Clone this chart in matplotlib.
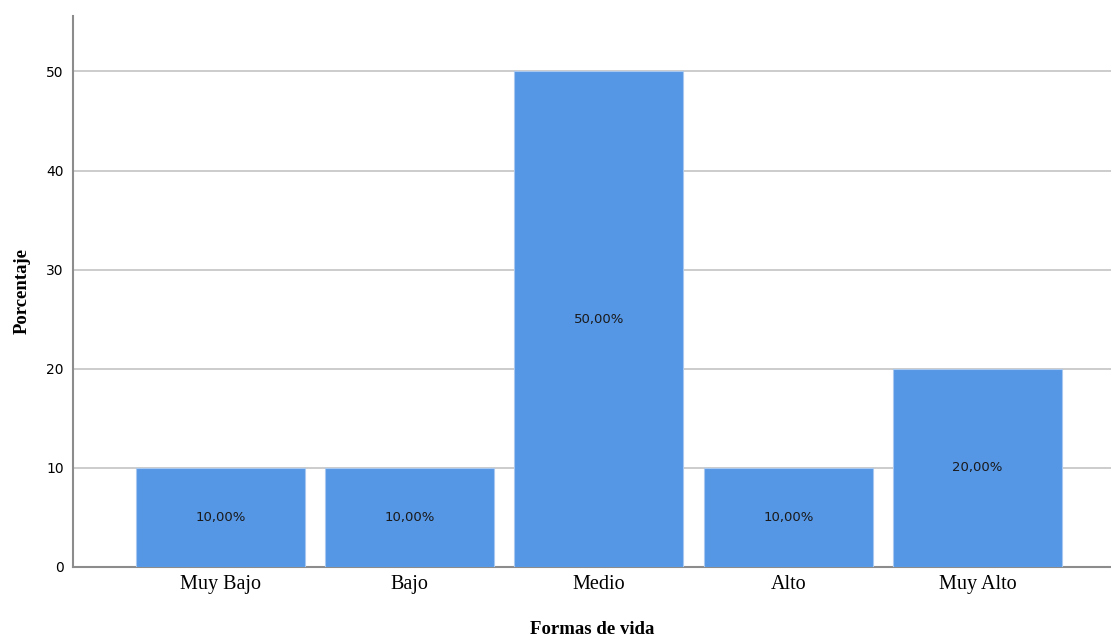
import numpy as np
import matplotlib.pyplot as plt

categories = ["Muy Bajo", "Bajo", "Medio", "Alto", "Muy Alto"]
percentages = [10.0, 10.0, 50.0, 10.0, 20.0]
bar_labels = ["10,00%", "10,00%", "50,00%", "10,00%", "20,00%"]

fig = plt.figure(figsize=(11.11, 6.37), dpi=100)
ax = fig.add_axes([0.066, 0.110, 0.934, 0.865])

x = np.arange(len(categories))
bars = ax.bar(x, percentages, width=0.893, color="#5596e5", edgecolor="#a9c8f0",
              linewidth=0.8, zorder=3)

# labels in the middle of each bar
for rect, lab in zip(bars, bar_labels):
    ax.text(rect.get_x() + rect.get_width() / 2, rect.get_height() / 2, lab,
            ha="center", va="center", fontsize=9.5, family="DejaVu Sans",
            color="#1a1a1a", zorder=4)

ax.set_xlim(-0.777, 4.705)
ax.set_ylim(0, 55.6)
ax.set_yticks([0, 10, 20, 30, 40, 50])
ax.set_xticks(x)
ax.set_xticklabels(categories, family="Liberation Serif", fontsize=14.5)
ax.tick_params(axis="y", labelsize=10, length=0, pad=7)
ax.tick_params(axis="x", length=0, pad=6)
ax.yaxis.grid(True, color="#c4c4c4", linewidth=1.2, zorder=0)
ax.set_axisbelow(True)

for s in ["top", "right"]:
    ax.spines[s].set_visible(False)
for s in ["left", "bottom"]:
    ax.spines[s].set_color("#8c8c8c")
    ax.spines[s].set_linewidth(1.5)

ax.set_xlabel("Formas de vida", family="Liberation Serif", fontsize=13.5,
              fontweight="bold", labelpad=19)
ax.set_ylabel("Porcentaje", family="Liberation Serif", fontsize=13.5,
              fontweight="bold", labelpad=11)

fig.savefig("out.png", dpi=100)
